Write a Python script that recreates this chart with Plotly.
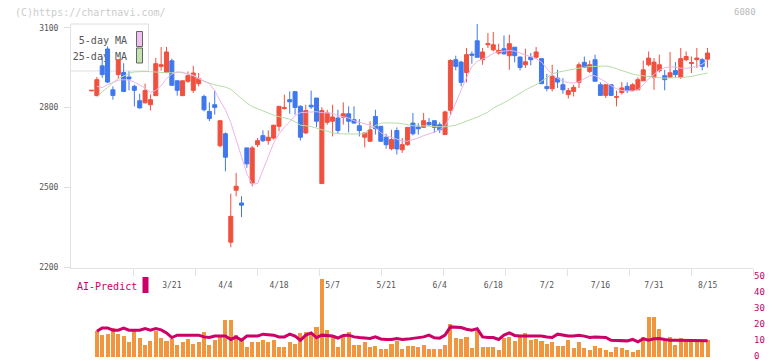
import numpy as np
import plotly.graph_objects as go

# ---------------- data ----------------
date_labels = ["3/21", "4/4", "4/18", "5/7", "5/21", "6/4", "6/18", "7/2", "7/16", "7/31", "8/15"]
label_index = [15, 25, 35, 45, 55, 65, 75, 85, 95, 105, 115]

open_ = [2863, 2845, 2957, 3020, 2867, 2924, 2932, 2915, 2880, 2826,
         2818, 2811, 2845, 2955, 2932, 2976, 2901, 2845, 2899, 2865,
         2890, 2842, 2786, 2811, 2657, 2702, 2295, 2490, 2442, 2649,
         2517, 2661, 2695, 2676, 2686, 2730, 2797, 2830, 2860, 2805,
         2705, 2809, 2836, 2515, 2745, 2749, 2761, 2764, 2777, 2755,
         2732, 2689, 2674, 2767, 2730, 2689, 2646, 2714, 2642, 2661,
         2742, 2727, 2726, 2744, 2751, 2736, 2699, 2790, 2980, 2971,
         2932, 3001, 3051, 2980, 3036, 3017, 3005, 3021, 2995, 3027,
         2990, 2961, 2990, 2989, 2984, 2879, 2871, 2911, 2886, 2849,
         2861, 2895, 2970, 2936, 2980, 2886, 2846, 2886, 2839, 2857,
         2880, 2864, 2867, 2901, 2961, 2914, 2939, 2920, 2914, 2939,
         2914, 2980, 2966, 2980, 2980, 2982]
high = [2866, 2915, 2991, 3030, 2880, 2982, 2967, 2936, 2886, 2852,
        2890, 2849, 2987, 3028, 3028, 2984, 2901, 2901, 2936, 2957,
        2930, 2849, 2820, 2864, 2751, 2707, 2477, 2555, 2467, 2649,
        2657, 2686, 2715, 2715, 2736, 2805, 2849, 2861, 2862, 2809,
        2811, 2864, 2836, 2802, 2792, 2811, 2792, 2820, 2805, 2805,
        2757, 2705, 2749, 2792, 2730, 2702, 2717, 2726, 2686, 2726,
        2780, 2742, 2780, 2761, 2751, 2745, 2789, 2982, 2995, 2976,
        3024, 3011, 3115, 3024, 3080, 3084, 3040, 3071, 3074, 3027,
        2992, 3021, 3005, 3028, 2984, 2927, 2961, 2942, 2911, 2874,
        2886, 2970, 2992, 2977, 2999, 2895, 2886, 2886, 2864, 2896,
        2895, 2892, 2914, 2977, 3011, 2986, 2999, 2942, 3009, 2971,
        3024, 3011, 2992, 3024, 2986, 3024]
low = [2862, 2845, 2912, 2892, 2830, 2909, 2858, 2865, 2805, 2797,
       2816, 2790, 2845, 2939, 2932, 2883, 2845, 2845, 2893, 2855,
       2880, 2786, 2749, 2774, 2651, 2561, 2276, 2467, 2389, 2574,
       2505, 2652, 2671, 2661, 2680, 2711, 2792, 2777, 2774, 2677,
       2702, 2795, 2727, 2515, 2736, 2692, 2701, 2736, 2707, 2742,
       2692, 2651, 2671, 2699, 2671, 2646, 2640, 2624, 2630, 2657,
       2696, 2699, 2724, 2730, 2705, 2705, 2699, 2774, 2940, 2880,
       2895, 2965, 2989, 2961, 3024, 3011, 2999, 2999, 2942, 2970,
       2940, 2949, 2959, 2982, 2890, 2861, 2861, 2874, 2852, 2834,
       2842, 2874, 2951, 2930, 2899, 2846, 2836, 2846, 2805, 2849,
       2855, 2862, 2866, 2899, 2955, 2867, 2932, 2865, 2914, 2914,
       2908, 2974, 2930, 2949, 2940, 2951]
close = [2865, 2905, 2924, 2896, 2846, 2980, 2861, 2908, 2865, 2799,
         2864, 2830, 2965, 2961, 3009, 2884, 2865, 2901, 2920, 2930,
         2909, 2792, 2759, 2801, 2751, 2614, 2392, 2505, 2434, 2589,
         2649, 2676, 2676, 2689, 2734, 2805, 2800, 2822, 2801, 2689,
         2789, 2803, 2749, 2789, 2780, 2765, 2714, 2777, 2749, 2742,
         2714, 2705, 2717, 2721, 2674, 2661, 2680, 2645, 2661, 2726,
         2702, 2721, 2751, 2736, 2726, 2717, 2784, 2977, 2955, 2895,
         2999, 2997, 2989, 3009, 3040, 3036, 3015, 3002, 3040, 2995,
         2951, 2972, 2980, 3009, 2890, 2872, 2917, 2896, 2867, 2864,
         2876, 2961, 2951, 2961, 2899, 2846, 2886, 2846, 2841, 2874,
         2864, 2886, 2905, 2942, 2986, 2971, 2961, 2905, 2931, 2924,
         2984, 2992, 2969, 2986, 2955, 3005]

ma5 = [None, 2880, 2875, 2886, 2896, 2903, 2905, 2903, 2896, 2886,
       2874, 2857, 2865, 2882, 2909, 2926, 2934, 2933, 2926, 2922,
       2909, 2899, 2890, 2864, 2826, 2792, 2744, 2684, 2616, 2552,
       2513, 2515, 2564, 2616, 2667, 2702, 2727, 2747, 2770, 2781,
       2782, 2783, 2785, 2781, 2781, 2779, 2770, 2766, 2761, 2751,
       2746, 2740, 2734, 2723, 2706, 2695, 2689, 2682, 2674, 2674,
       2680, 2686, 2695, 2701, 2708, 2717, 2732, 2770, 2815, 2866,
       2912, 2954, 2974, 2982, 2991, 3004, 3010, 3012, 3015, 3012,
       3005, 2997, 2991, 2984, 2971, 2946, 2924, 2911, 2899, 2894,
       2892, 2897, 2909, 2920, 2920, 2909, 2896, 2882, 2871, 2864,
       2862, 2862, 2867, 2886, 2909, 2924, 2941, 2950, 2953, 2952,
       2948, 2948, 2950, 2954, 2963, 2978]
ma25 = [None, 2839, 2860, 2875, 2894, 2909, 2920, 2929, 2934, 2936,
        2936, 2935, 2933, 2931, 2931, 2931, 2933, 2931, 2926, 2920,
        2909, 2899, 2892, 2886, 2882, 2877, 2869, 2852, 2834, 2817,
        2804, 2796, 2785, 2777, 2772, 2766, 2761, 2757, 2747, 2734,
        2732, 2729, 2723, 2717, 2712, 2706, 2702, 2701, 2701, 2701,
        2701, 2702, 2723, 2734, 2742, 2743, 2743, 2742, 2740, 2736,
        2732, 2732, 2732, 2731, 2729, 2728, 2728, 2731, 2734, 2742,
        2749, 2757, 2764, 2774, 2783, 2798, 2807, 2819, 2830, 2843,
        2856, 2866, 2877, 2886, 2899, 2912, 2927, 2933, 2937, 2942,
        2946, 2950, 2952, 2954, 2956, 2956, 2956, 2953, 2946, 2939,
        2933, 2926, 2922, 2919, 2916, 2914, 2912, 2911, 2911, 2912,
        2913, 2915, 2917, 2922, 2926, 2930]

volume = [None, 16.7, 14.2, 14.8, 18.4, 14.8, 13.6, 10, 16.7, 12.1, 7.9,
          10.4, 16.7, 12.1, 10.4, 11.5, 7.9, 9.4, 11.5, 8.6, 9.4,
          16.3, 7.9, 11, 12.8, 23.6, 23.6, 14.2, 11, 6.5, 10,
          9.4, 11, 9.4, 11, 6.3, 6.3, 10, 8.6, 15.6, 16.3,
          15.6, 19.4, 49.2, 17.3, 14.2, 6.3, 14.2, 16.3, 7.9, 7.9,
          10, 6.5, 7.3, 5.0, 5.6, 8.6, 10.4, 5.2, 7.3, 7.3,
          6.5, 7.9, 5.2, 5.2, 5.2, 7.9, 21, 12.1, 11.5, 13.1,
          5.9, 16.7, 6.5, 6.5, 6.5, 4.4, 12.1, 13.1, 10.6, 13.1,
          15.2, 11, 11.5, 10.6, 8.6, 9.4, 7.3, 7.3, 11, 5.9,
          10, 5.9, 4.4, 6.9, 5.9, 4.8, 3.3, 6.5, 5.9, 4.8,
          3.3, 4.8, 12.7, 25.6, 25.6, 17.9, 11, 12.7, 7.9, 12.1,
          11.8, 9.4, 11, 9.4, 11]
ai_predict = [None, 16.7, 18.75, 18.75, 17.3, 17.3, 18.6, 17.3, 17.3, 17.3, 18.3,
              17.3, 18.3, 17.5, 15.6, 12.7, 14.2, 14.2, 14.2, 14.2, 14.2,
              13.1, 12.7, 13.6, 13.6, 13.6, 11.5, 13.1, 11, 13.6, 13.6,
              13.6, 14.8, 14.5, 14.2, 13.1, 13.1, 14.8, 13.6, 11, 14.2,
              15.6, 12.7, 14.2, 14, 13.6, 12.4, 14, 14.2, 13.1, 12.7,
              12.4, 12.1, 13.1, 11.8, 11.5, 11.5, 12, 11.5, 11.7, 12.1,
              12.5, 13.1, 14.2, 12.5, 12.3, 14.2, 19.4, 19.2, 19, 17.9,
              17.3, 18.3, 13.1, 12.7, 12.7, 11.5, 14.2, 15.6, 14, 13.6,
              13.6, 13.6, 14, 13.6, 13.1, 12.7, 14.8, 14, 13.6, 13.6,
              14.2, 13.6, 12.7, 13.1, 13.1, 12.7, 11, 11, 11, 10.6,
              11.5, 10, 11.9, 11, 11.9, 12.1, 11.5, 11, 11, 11,
              11, 11, 10.8, 10.6, 10.6]

price_ticks = [2200, 2500, 2800, 3100]
ai_ticks = [0, 10, 20, 30, 40, 50]

n = len(close)
for arr in (open_, high, low, ma5, ma25, volume, ai_predict):
    assert len(arr) == n, len(arr)
xs = list(range(n))

# ---------------- layout helpers (pixel -> paper) ----------------
W, H = 772, 361
L, R, T, B = 71, 753, 24, 358
def px(x):
    return (x - L) / (R - L)
def py(y):
    return (B - y) / (B - T)

# x mapping: first candle centre at 91.5 px, 5.357 px per trading day
x0_px, step = 91.5, 5.357
x_lo = (L - x0_px) / step
x_hi = (R - x0_px) / step
grid_ticks = list(np.linspace(x_lo, x_hi, 12)[1:])

RED = "#f0503e"
BLUE = "#3f78ee"
MONO = "DejaVu Sans Mono"

fig = go.Figure()
fig.add_trace(go.Scatter(x=xs, y=ma25, mode="lines", line=dict(color="#b6dca6", width=1),
                         xaxis="x", yaxis="y", hoverinfo="skip"))
fig.add_trace(go.Scatter(x=xs, y=ma5, mode="lines", line=dict(color="#ebb3eb", width=1),
                         xaxis="x", yaxis="y", hoverinfo="skip"))
fig.add_trace(go.Candlestick(
    x=xs, open=open_, high=high, low=low, close=close,
    increasing=dict(line=dict(color=RED, width=1), fillcolor=RED),
    decreasing=dict(line=dict(color=BLUE, width=1), fillcolor=BLUE),
    whiskerwidth=0, xaxis="x", yaxis="y"))
fig.add_trace(go.Bar(x=xs, y=volume, marker=dict(color="#f0963e", line=dict(width=0)),
                     width=0.75, xaxis="x2", yaxis="y2"))
fig.add_trace(go.Scatter(x=xs, y=ai_predict, mode="lines", line=dict(color="#cc0066", width=3),
                         xaxis="x2", yaxis="y2"))

shapes = [
    # legend box
    dict(type="rect", xref="paper", yref="paper", x0=px(70.5), x1=px(148.5), y0=py(71), y1=py(24),
         line=dict(color="#dedede", width=1), fillcolor="rgba(255,255,255,0.9)", layer="below"),
    dict(type="rect", xref="paper", yref="paper", x0=px(72), x1=px(131), y0=py(47), y1=py(32),
         line=dict(width=0), fillcolor="rgba(0,0,0,0)", layer="below",
         label=dict(text="5-day MA", textposition="middle right", padding=1,
                    font=dict(family=MONO, size=10, color="#555555"))),
    dict(type="rect", xref="paper", yref="paper", x0=px(72), x1=px(131), y0=py(63), y1=py(48),
         line=dict(width=0), fillcolor="rgba(0,0,0,0)", layer="below",
         label=dict(text="25-day MA", textposition="middle right", padding=1,
                    font=dict(family=MONO, size=10, color="#555555"))),
    dict(type="rect", xref="paper", yref="paper", x0=px(136.5), x1=px(142.5), y0=py(46.5), y1=py(31.5),
         line=dict(color="#666666", width=1), fillcolor="#f0c0f0", layer="below"),
    dict(type="rect", xref="paper", yref="paper", x0=px(136.5), x1=px(142.5), y0=py(63), y1=py(48),
         line=dict(color="#666666", width=1), fillcolor="#c2e2b2", layer="below"),
    # AI-Predict swatch
    dict(type="rect", xref="paper", yref="paper", x0=px(142.5), x1=px(148.5), y0=py(293), y1=py(277),
         line=dict(width=0), fillcolor="#cc0066"),
]

annotations = [
    dict(text="(C)https://chartnavi.com/", xref="paper", yref="paper", x=px(13), y=py(12.5),
         xanchor="left", yanchor="middle", showarrow=False,
         font=dict(family=MONO, size=10, color="#cccccc")),
    dict(text="6080", xref="paper", yref="paper", x=px(758), y=py(12.5),
         xanchor="right", yanchor="middle", showarrow=False,
         font=dict(family=MONO, size=9, color="#bbbbbb")),
    dict(text="AI-Predict", xref="paper", yref="paper", x=px(75), y=py(286),
         xanchor="left", yanchor="middle", showarrow=False,
         font=dict(family=MONO, size=10, color="#cc0066")),
]

fig.update_layout(
    width=W, height=H,
    margin=dict(l=L, r=W - R, t=T, b=H - B, pad=0, autoexpand=False),
    paper_bgcolor="white", plot_bgcolor="white",
    showlegend=False, boxgap=0.25, boxgroupgap=0, bargap=0,
    shapes=shapes, annotations=annotations,
    xaxis=dict(domain=[0, 1], anchor="y", range=[x_lo, x_hi], tickmode="array",
               tickvals=label_index, ticktext=date_labels, ticks="", showline=True,
               linecolor="#e3e3e3", linewidth=1, showgrid=False, zeroline=False,
               tickfont=dict(family=MONO, size=8, color="#555555"), ticklabelstandoff=10,
               rangeslider=dict(visible=False), automargin=False,
               minor=dict(tickmode="array", tickvals=grid_ticks, ticks="outside", ticklen=7,
                          tickcolor="#e3e3e3", tickwidth=1, showgrid=False)),
    yaxis=dict(domain=[py(267.5), 1], anchor="x", range=[2200, 3114], tickmode="array",
               tickvals=price_ticks, ticks="outside", ticklen=6, tickcolor="#dddddd",
               showline=True, linecolor="#e3e3e3", linewidth=1, showgrid=False, zeroline=False,
               tickfont=dict(family=MONO, size=8, color="#555555"), ticklabelstandoff=4,
               automargin=False),
    xaxis2=dict(domain=[0, 1], anchor="y2", matches="x", visible=False, automargin=False),
    yaxis2=dict(domain=[py(357.7), py(278.3)], anchor="x2", range=[0, 50], side="right",
                tickmode="array", tickvals=ai_ticks, ticks="", showline=False, showgrid=False,
                zeroline=False, tickfont=dict(family=MONO, size=9, color="#cc0066"),
                ticklabelstandoff=0, ticklabelshift=-2, ticklabeloverflow="allow",
                automargin=False),
)

fig.write_html("out.html", config={"displayModeBar": False},
               post_script="document.body.style.margin='0';")
